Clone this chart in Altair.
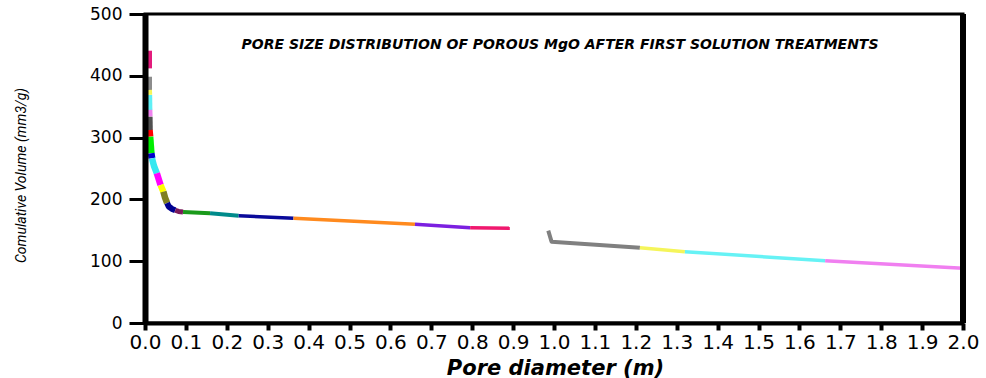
import altair as alt
import pandas as pd

# ---- data ----
seg_colors = [
    "#e31b7c", "#8c8c8c", "#f5f55a", "#5ff0f5", "#ee82ee", "#505050", "#ff0000",
    "#00ee00", "#0000cc", "#33e8f0", "#ff00ff", "#ffff00", "#808020", "#000090",
    "#7a1a5a", "#1a9a1a", "#008b8b", "#0a0a9a", "#ff8a1e", "#7b1fe0", "#f0186e",
    "#808080", "#f5f55a", "#66f2f5", "#f07ff0",
]
seg_x = [
    [0.0085, 0.0085],
    [0.0085, 0.0085],
    [0.0085, 0.009],
    [0.009, 0.0095],
    [0.0095, 0.010],
    [0.010, 0.0105],
    [0.0105, 0.012],
    [0.012, 0.015],
    [0.015, 0.017],
    [0.017, 0.022, 0.029],
    [0.029, 0.038],
    [0.038, 0.045],
    [0.045, 0.049, 0.054],
    [0.054, 0.058, 0.066, 0.074],
    [0.074, 0.082, 0.093],
    [0.093, 0.159],
    [0.159, 0.229],
    [0.229, 0.363],
    [0.363, 0.660],
    [0.660, 0.795],
    [0.795, 0.892],
    [0.986, 0.994, 1.210],
    [1.210, 1.320],
    [1.320, 1.663],
    [1.663, 2.0],
]
seg_y = [
    [440.6, 412.0],
    [398.5, 377.0],
    [377.0, 369.0],
    [369.0, 344.7],
    [344.7, 333.8],
    [333.8, 312.3],
    [312.3, 301.5],
    [301.5, 274.6],
    [274.6, 266.5],
    [266.5, 254.0, 242.2],
    [242.2, 223.3],
    [223.3, 212.5],
    [212.5, 203.0, 194.2],
    [194.2, 188.5, 184.5, 182.5],
    [182.5, 180.5, 179.6],
    [179.6, 177.5],
    [177.5, 173.6],
    [173.6, 169.4],
    [169.4, 159.7],
    [159.7, 154.2],
    [154.2, 153.2],
    [149.4, 131.6, 121.8],
    [121.8, 115.4],
    [115.4, 100.8],
    [100.8, 88.5],
]
# line widths (style)
seg_widths = [7, 7, 7, 7, 7, 7, 7, 7, 7, 6.5, 6.5, 6.5, 6.5, 6, 5, 4, 4, 3.5, 3.5, 3.5, 3.5,
              4, 3.5, 3.5, 3.5]

x_ticks = [round(i * 0.05, 2) for i in range(41)]
y_ticks = [0, 100, 200, 300, 400, 500]

title_text = "PORE SIZE DISTRIBUTION OF POROUS MgO AFTER FIRST SOLUTION TREATMENTS"
x_title = "Pore diameter (m)"
y_title = "Comulative Volume (mm3/g)"

rows = []
for s, (xs, ys) in enumerate(zip(seg_x, seg_y)):
    for i, (xv, yv) in enumerate(zip(xs, ys)):
        rows.append({"seg": s, "i": i, "x": xv, "y": yv,
                     "c": seg_colors[s], "w": seg_widths[s]})
df = pd.DataFrame(rows)

PLOT_W, PLOT_H = 818, 309

lines = alt.Chart(df).mark_line(strokeCap="butt", strokeJoin="round").encode(
    x=alt.X("x:Q", scale=alt.Scale(domain=[0, 2], nice=False, zero=False),
            axis=alt.Axis(values=x_ticks, title=x_title,
                          labelExpr="round(datum.value*100) % 10 == 0 ? format(datum.value, '.1f') : ''",
                          labelOverlap=False, labelFlush=False, labelBound=False,
                          labelFont="DejaVu Sans", labelFontSize=20, labelColor="black",
                          labelPadding=2, tickSize=7, tickWidth=4, tickColor="black",
                          domainWidth=4, domainColor="black",
                          titleFont="DejaVu Sans", titleFontSize=21, titleFontWeight="bold",
                          titleFontStyle="italic", titleColor="black",
                          titleX=410, titleY=45, titleBaseline="middle", titleAlign="center",
                          zindex=1)),
    y=alt.Y("y:Q", scale=alt.Scale(domain=[0, 500], nice=False),
            axis=alt.Axis(values=y_ticks, title=y_title,
                          labelFont="DejaVu Sans", labelFontSize=17, labelColor="black",
                          labelPadding=7, tickSize=16, tickWidth=3, tickColor="black",
                          domainWidth=6, domainColor="black",
                          titleFont="Liberation Sans Narrow, Roboto, Liberation Sans",
                          titleFontSize=14, titleFontWeight="normal", titleFontStyle="italic",
                          titleColor="black", titleAngle=270, titleX=-124, titleY=161,
                          titleAlign="center", titleBaseline="middle", zindex=1)),
    color=alt.Color("c:N", scale=None, legend=None),
    size=alt.Size("w:Q", scale=None, legend=None),
    detail="seg:N",
    order="i:Q",
)

frame = alt.Chart(pd.DataFrame({"a": [0]})).mark_rule(color="black", strokeWidth=6).encode(
    x=alt.datum(2.0), y=alt.datum(0), y2=alt.datum(500)
)

chart = alt.layer(lines, frame).properties(
    width=PLOT_W, height=PLOT_H,
    title=alt.TitleParams(title_text, anchor="middle", frame="group", orient="top",
                          offset=0, dy=54, dx=6, baseline="middle",
                          font="DejaVu Sans", fontSize=14, fontWeight="bold",
                          fontStyle="italic", color="black"),
    autosize=alt.AutoSizeParams(type="none"),
    padding={"left": 145, "top": 14, "right": 23, "bottom": 55},
).configure_view(stroke="black", strokeWidth=3).configure_axis(grid=False)

chart.save("out.html", embed_options={"renderer": "svg", "actions": False})
